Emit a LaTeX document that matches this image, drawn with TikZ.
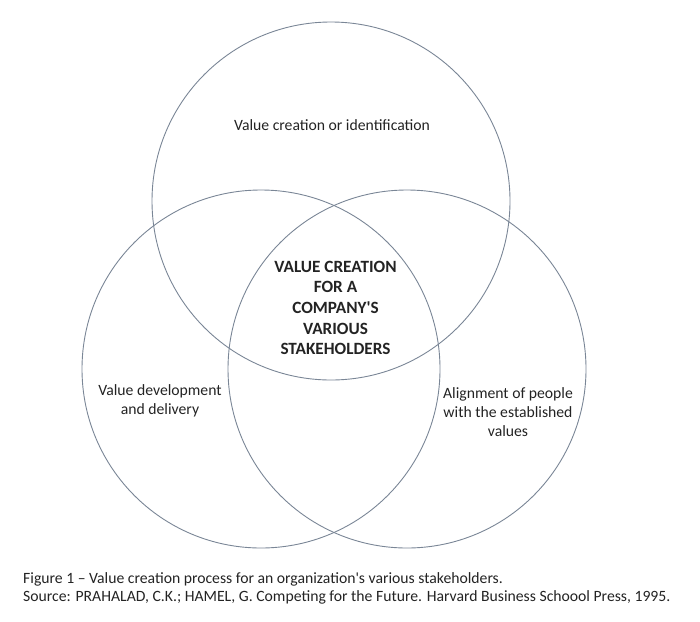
\documentclass[tikz,border=0pt]{standalone}
\usepackage{fontspec}
\setmainfont{Carlito}
\usepackage{tikz}
\usetikzlibrary{positioning}
\definecolor{ringcolor}{RGB}{122,134,150}
\definecolor{mytextcolor}{RGB}{35,35,35}

\begin{document}
\begin{tikzpicture}[x=1pt,y=-1pt,
  ring/.style={circle, draw=ringcolor, line width=0.9pt, minimum size=358pt, inner sep=0pt},
  lbl/.style={text=mytextcolor, align=center, inner sep=0pt, font=\fontsize{15.7}{18.6}\selectfont},
  core/.style={text=mytextcolor, align=center, inner sep=0pt, font=\fontsize{17.2}{20.6}\selectfont\bfseries}]
\useasboundingbox (0,0) rectangle (700,621);
\node[ring] (topring) at (331,201) {};
\node[ring] (leftring) at (261,369) {};
\node[ring] (rightring) at (407,369) {};
\node[lbl] (identify) at (332,125) {Value creation or identification};
\node[lbl] (deliver) at (160,401) {Value development\\and delivery};
\node[lbl] (align) at (508,412) {Alignment of people\\with the established\\values};
\node[core] (centre) at (335.5,308) {VALUE CREATION\\FOR A\\COMPANY\textquotesingle S\\VARIOUS\\STAKEHOLDERS};
\node[lbl, align=left, anchor=west] (caption) at (23,588.5) {Figure 1 – Value creation process for an organization\textquotesingle s various stakeholders.\\Source: PRAHALAD, C.K.; HAMEL, G. Competing for the Future. Harvard Business Schoool Press, 1995.};
\end{tikzpicture}
\end{document}
